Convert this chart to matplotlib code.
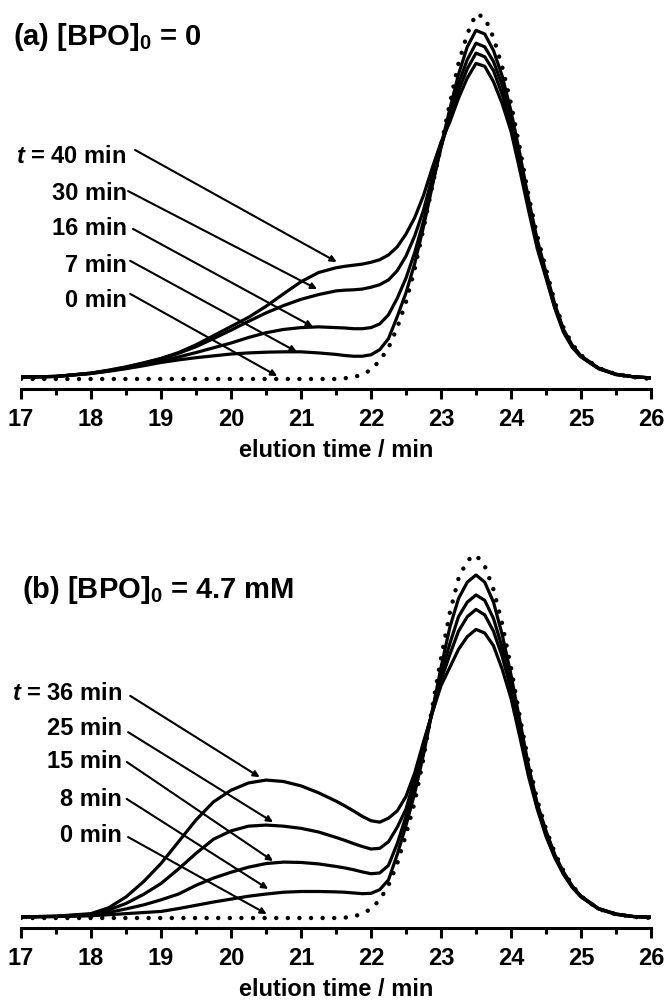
import matplotlib
matplotlib.use("Agg")
import matplotlib.pyplot as plt
from matplotlib.ticker import MultipleLocator

plt.rcParams['font.family'] = ['Liberation Sans', 'DejaVu Sans']
plt.rcParams['font.weight'] = 'bold'
plt.rcParams['mathtext.fontset'] = 'custom'
plt.rcParams['mathtext.rm'] = 'Liberation Sans:bold'
plt.rcParams['mathtext.it'] = 'Liberation Sans:italic:bold'

# elution time grid (min), finer across the main peak
time = [17, 17.5, 18, 18.25, 18.5, 18.75, 19, 19.25, 19.5, 19.75, 20, 20.25,
        20.5, 20.75, 21, 21.25, 21.5,
        21.625, 21.75, 21.875, 22, 22.125, 22.25, 22.375, 22.5, 22.625, 22.75,
        22.875, 23, 23.125, 23.25, 23.375, 23.5, 23.625, 23.75, 23.875, 24,
        24.125, 24.25, 24.375, 24.5, 24.625, 24.75, 24.875, 25,
        25.25, 25.5, 25.75, 26]

# (a) [BPO]0 = 0
a_labels = ['t = 40 min', '30 min', '16 min', '7 min', '0 min']
a_t0 = [0, 0, 0, 0, 0, 0, 0, 0, 0, 0, 0, 0, 0, 0, 0, 0, 0,
        0.002, 0.005, 0.012, 0.025, 0.05, 0.085, 0.14, 0.21, 0.30, 0.41,
        0.525, 0.635, 0.75, 0.86, 0.94, 0.995, 0.985, 0.93, 0.85, 0.75,
        0.63, 0.50, 0.39, 0.30, 0.21, 0.14, 0.095, 0.065,
        0.03, 0.013, 0.005, 0]
a_t7 = [0.005, 0.007, 0.015, 0.021, 0.028, 0.036, 0.045, 0.052, 0.058, 0.063,
        0.068, 0.071, 0.073, 0.074, 0.074, 0.071, 0.067,
        0.064, 0.062, 0.062, 0.066, 0.08, 0.11, 0.17, 0.235, 0.315, 0.415,
        0.525, 0.635, 0.735, 0.83, 0.905, 0.95, 0.94, 0.895, 0.825, 0.73,
        0.615, 0.49, 0.38, 0.29, 0.205, 0.135, 0.092, 0.063,
        0.03, 0.013, 0.006, 0.003]
a_t16 = [0.005, 0.007, 0.015, 0.022, 0.03, 0.04, 0.05, 0.06, 0.072, 0.085,
         0.098, 0.113, 0.126, 0.135, 0.14, 0.142, 0.14,
         0.139, 0.137, 0.137, 0.14, 0.15, 0.175, 0.22, 0.275, 0.345, 0.43,
         0.53, 0.63, 0.72, 0.805, 0.87, 0.915, 0.905, 0.865, 0.80, 0.71,
         0.60, 0.48, 0.37, 0.285, 0.20, 0.132, 0.09, 0.062,
         0.029, 0.013, 0.006, 0.003]
a_t30 = [0.005, 0.007, 0.016, 0.023, 0.032, 0.043, 0.055, 0.07, 0.088, 0.11,
         0.133, 0.157, 0.18, 0.20, 0.217, 0.23, 0.24,
         0.242, 0.243, 0.245, 0.25, 0.257, 0.27, 0.295, 0.335, 0.39, 0.46,
         0.55, 0.635, 0.71, 0.785, 0.845, 0.888, 0.878, 0.84, 0.775, 0.695,
         0.585, 0.47, 0.365, 0.28, 0.196, 0.13, 0.088, 0.061,
         0.029, 0.012, 0.006, 0.003]
a_t40 = [0.005, 0.007, 0.016, 0.024, 0.033, 0.044, 0.056, 0.072, 0.093, 0.118,
         0.143, 0.168, 0.198, 0.232, 0.265, 0.29, 0.303,
         0.307, 0.31, 0.313, 0.318, 0.325, 0.338, 0.36, 0.395, 0.44, 0.50,
         0.575, 0.645, 0.70, 0.765, 0.82, 0.86, 0.852, 0.81, 0.75, 0.675,
         0.57, 0.46, 0.355, 0.275, 0.193, 0.127, 0.086, 0.06,
         0.028, 0.012, 0.006, 0.003]
# label baselines and arrow (start, end) points in data units
a_label_y = [0.591, 0.490, 0.395, 0.294, 0.199]
a_arrow_from = [(18.63, 0.624), (18.53, 0.512), (18.60, 0.409), (18.56, 0.322), (18.56, 0.232)]
a_arrow_to = [(21.51, 0.319), (21.23, 0.245), (21.17, 0.142), (20.94, 0.074), (20.66, 0.008)]

# (b) [BPO]0 = 4.7 mM
b_labels = ['t = 36 min', '25 min', '15 min', '8 min', '0 min']
b_t0 = [0, 0, 0, 0, 0, 0, 0, 0, 0, 0, 0, 0, 0, 0, 0, 0, 0,
        0.001, 0.004, 0.012, 0.025, 0.05, 0.09, 0.15, 0.23, 0.32, 0.44,
        0.58, 0.715, 0.84, 0.935, 0.985, 1.0, 0.97, 0.905, 0.81, 0.69,
        0.555, 0.43, 0.325, 0.245, 0.18, 0.13, 0.09, 0.06,
        0.025, 0.01, 0.003, 0]
b_t8 = [0.003, 0.004, 0.006, 0.009, 0.012, 0.015, 0.018, 0.026, 0.035, 0.044,
        0.052, 0.06, 0.066, 0.071, 0.073, 0.073, 0.072,
        0.071, 0.069, 0.067, 0.068, 0.078, 0.105, 0.175, 0.255, 0.345, 0.45,
        0.57, 0.69, 0.80, 0.88, 0.925, 0.945, 0.925, 0.87, 0.78, 0.67,
        0.545, 0.42, 0.315, 0.24, 0.175, 0.127, 0.088, 0.06,
        0.026, 0.011, 0.004, 0.002]
b_t15 = [0.003, 0.004, 0.008, 0.015, 0.025, 0.036, 0.05, 0.066, 0.09, 0.11,
         0.126, 0.14, 0.15, 0.154, 0.153, 0.149, 0.142,
         0.138, 0.133, 0.127, 0.122, 0.124, 0.145, 0.205, 0.28, 0.365, 0.465,
         0.57, 0.67, 0.755, 0.83, 0.87, 0.89, 0.875, 0.825, 0.745, 0.645,
         0.53, 0.41, 0.31, 0.235, 0.172, 0.125, 0.087, 0.06,
         0.026, 0.011, 0.004, 0.002]
b_t25 = [0.003, 0.005, 0.01, 0.022, 0.04, 0.065, 0.095, 0.135, 0.178, 0.217,
         0.24, 0.253, 0.256, 0.253, 0.247, 0.237, 0.222,
         0.214, 0.205, 0.197, 0.19, 0.192, 0.21, 0.25, 0.30, 0.385, 0.48,
         0.565, 0.655, 0.725, 0.79, 0.83, 0.85, 0.835, 0.79, 0.72, 0.63,
         0.515, 0.40, 0.305, 0.23, 0.17, 0.123, 0.086, 0.059,
         0.025, 0.01, 0.004, 0.002]
b_t36 = [0.003, 0.005, 0.012, 0.028, 0.058, 0.10, 0.15, 0.21, 0.27, 0.32,
         0.352, 0.372, 0.38, 0.376, 0.364, 0.345, 0.322,
         0.309, 0.295, 0.28, 0.268, 0.264, 0.275, 0.295, 0.335, 0.40, 0.485,
         0.565, 0.64, 0.69, 0.74, 0.775, 0.795, 0.785, 0.75, 0.685, 0.605,
         0.50, 0.39, 0.30, 0.225, 0.166, 0.12, 0.084, 0.058,
         0.025, 0.01, 0.004, 0.002]
b_label_y = [0.603, 0.507, 0.416, 0.311, 0.212]
b_arrow_from = [(18.56, 0.612), (18.53, 0.512), (18.51, 0.430), (18.51, 0.328), (18.53, 0.223)]
b_arrow_to = [(20.41, 0.388), (20.60, 0.264), (20.60, 0.157), (20.53, 0.080), (20.51, 0.011)]


def draw_panel(ax, title, title_pos, solids, dotted, labels, label_x, label_y,
               arrow_from, arrow_to, ylim):
    ax.plot(time, dotted, color='black', lw=3.2, linestyle=(0, (0.01, 2.6)),
            dash_capstyle='round')
    for y in solids:
        ax.plot(time, y, color='black', lw=2.3, solid_capstyle='round',
                solid_joinstyle='round')

    ax.set_xlim(17, 26)
    ax.set_ylim(*ylim)
    for side in ['left', 'right', 'top']:
        ax.spines[side].set_visible(False)
    ax.spines['bottom'].set_linewidth(2.2)
    ax.set_yticks([])
    ax.xaxis.set_major_locator(MultipleLocator(1))
    ax.xaxis.set_minor_locator(MultipleLocator(0.5))
    ax.tick_params(axis='x', which='major', direction='out', length=7.2,
                   width=2.2, pad=5.5, labelsize=17)
    ax.tick_params(axis='x', which='minor', direction='out', length=4.3, width=2.2)
    ax.set_xlabel('elution time / min', fontsize=17, fontweight='bold', labelpad=6)

    ax.text(title_pos[0], title_pos[1], title, fontsize=21, ha='left',
            va='baseline', clip_on=False)

    for i, lab in enumerate(labels):
        if lab.startswith('t'):
            lab = r'$\mathit{t}$' + lab[1:]
        ax.text(label_x, label_y[i], lab, fontsize=17, ha='right', va='baseline')
        ax.annotate('', xy=arrow_to[i], xytext=arrow_from[i],
                    arrowprops=dict(arrowstyle='-|>', color='black', lw=1.5,
                                    mutation_scale=9, shrinkA=0, shrinkB=0))


fig = plt.figure(figsize=(6.68, 10.03), dpi=100)
ax_a = fig.add_axes([21 / 668, 0.6112, 630 / 668, 0.3888])
ax_b = fig.add_axes([21 / 668, 0.0738, 630 / 668, 0.4576])

draw_panel(ax_a, r'(a) [BPO]$_\mathregular{0}$ = 0', (16.886, 0.913),
           [a_t7, a_t16, a_t30, a_t40], a_t0, a_labels, 18.51, a_label_y,
           a_arrow_from, a_arrow_to, (-0.0272, 1.0354))
draw_panel(ax_b, r'(b) [BPO]$_\mathregular{0}$ = 4.7 mM', (17.01, 0.884),
           [b_t8, b_t15, b_t25, b_t36], b_t0, b_labels, 18.44, b_label_y,
           b_arrow_from, b_arrow_to, (-0.0275, 1.2369))

fig.savefig('out.png', dpi=100)
